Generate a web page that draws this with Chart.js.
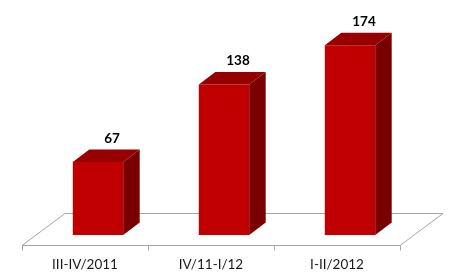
<!DOCTYPE html>
<html>
<head>
<meta charset="utf-8">
<script src="https://cdn.jsdelivr.net/npm/chart.js@4.4.1/dist/chart.umd.min.js"></script>
<style>
  html, body { margin: 0; padding: 0; background: #fff; }
  #wrap { width: 468px; height: 279px; }
</style>
</head>
<body>
<div id="wrap"><canvas id="chart"></canvas></div>
<script>
const categories = ['III-IV/2011', 'IV/11-I/12', 'I-II/2012'];
const values = [67, 138, 174];

// 3D depth of the bars and of the floor
const DEPTH_X = 16.5;
const DEPTH_Y = 12.5;
const FLOOR_FRONT = { dx: -13, dy: 9.5 };
const FLOOR_BACK = { dx: 30, dy: -22.5 };

const floorPlugin = {
    id: 'floor',
    beforeDatasetsDraw(chart) {
        const { ctx, chartArea } = chart;
        const n = categories.length;
        const step = (chartArea.right - chartArea.left) / n;
        const fy = Math.round(chartArea.bottom + FLOOR_FRONT.dy) + 0.5;
        const by = Math.round(chartArea.bottom + FLOOR_BACK.dy) + 0.5;
        const fl = chartArea.left + FLOOR_FRONT.dx;
        const fr = chartArea.right + FLOOR_FRONT.dx;
        const bl = chartArea.left + FLOOR_BACK.dx;
        const br = chartArea.right + FLOOR_BACK.dx;
        ctx.save();
        ctx.strokeStyle = '#a6a6a6';
        ctx.lineWidth = 1;
        ctx.beginPath();
        ctx.moveTo(fl, fy);
        ctx.lineTo(fr, fy);
        ctx.lineTo(br, by);
        ctx.lineTo(bl, by);
        ctx.closePath();
        ctx.fillStyle = '#fff';
        ctx.fill();
        ctx.stroke();
        // tick marks along the front edge
        for (let i = 0; i <= n; i++) {
            const tx = Math.round(fl + i * step) + 0.5;
            ctx.beginPath();
            ctx.moveTo(tx, fy);
            ctx.lineTo(tx, fy + 5);
            ctx.stroke();
        }
        ctx.restore();
    }
};

const bar3dPlugin = {
    id: 'bar3d',
    afterDatasetsDraw(chart) {
        const { ctx } = chart;
        const meta = chart.getDatasetMeta(0);
        ctx.save();
        meta.data.forEach((bar, i) => {
            const p = bar.getProps(['x', 'y', 'base', 'width'], true);
            const l = p.x - p.width / 2;
            const r = p.x + p.width / 2;
            // top face
            ctx.fillStyle = '#960000';
            ctx.beginPath();
            ctx.moveTo(l, p.y);
            ctx.lineTo(l + DEPTH_X, p.y - DEPTH_Y);
            ctx.lineTo(r + DEPTH_X, p.y - DEPTH_Y);
            ctx.lineTo(r, p.y);
            ctx.closePath();
            ctx.fill();
            // side face
            ctx.fillStyle = '#7a0000';
            ctx.beginPath();
            ctx.moveTo(r, p.y);
            ctx.lineTo(r + DEPTH_X, p.y - DEPTH_Y);
            ctx.lineTo(r + DEPTH_X, p.base - DEPTH_Y);
            ctx.lineTo(r, p.base);
            ctx.closePath();
            ctx.fill();
            // value label
            ctx.fillStyle = '#000';
            ctx.font = 'bold 13.5px Lato';
            ctx.textAlign = 'center';
            ctx.textBaseline = 'middle';
            ctx.fillText(String(values[i]), p.x + 14, p.y - DEPTH_Y - 11);
        });
        ctx.restore();
    }
};

new Chart(document.getElementById('chart'), {
    type: 'bar',
    data: {
        labels: categories,
        datasets: [{
            data: values,
            backgroundColor: '#c00000',
            borderWidth: 0,
            barPercentage: 0.4,
            categoryPercentage: 1
        }]
    },
    options: {
        responsive: true,
        maintainAspectRatio: false,
        animation: false,
        layout: { padding: { left: 35, right: 55, top: 17, bottom: 6 } },
        plugins: {
            legend: { display: false },
            tooltip: { enabled: false }
        },
        scales: {
            x: {
                grid: { display: false, drawTicks: false },
                border: { display: false },
                afterFit(scale) { scale.height = 38; },
                ticks: {
                    padding: 22,
                    labelOffset: -13,
                    color: '#1a1a1a',
                    font: { family: 'Lato', size: 13.5 }
                }
            },
            y: {
                display: false,
                min: 0,
                max: 200
            }
        }
    },
    plugins: [floorPlugin, bar3dPlugin]
});
</script>
</body>
</html>
